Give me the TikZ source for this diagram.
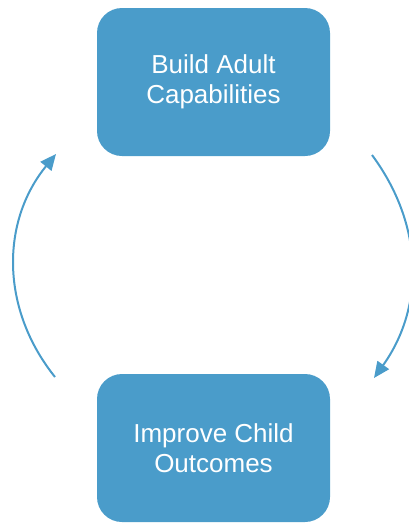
\documentclass[tikz,border=0pt]{standalone}
\usepackage{fontspec}
\setmainfont{Liberation Sans}
\usetikzlibrary{arrows.meta}
\definecolor{cycleblue}{RGB}{74,156,202}
\tikzset{
  stagebox/.style={fill=cycleblue,rounded corners=25pt,minimum width=233pt,
    minimum height=148pt,align=center,text=white,
    font=\fontsize{26}{30}\selectfont},
  cyclearrow/.style={draw=cycleblue,line width=2pt,
    -{Triangle[length=16pt,width=14pt]}}
}
\begin{document}
\begin{tikzpicture}[x=1pt,y=-1pt]
  \useasboundingbox (0,0) rectangle (408,523);
  \node[stagebox] (adult) at (213.5,82) {Build Adult\\Capabilities};
  \node[stagebox] (child) at (213.5,448) {Improve Child\\Outcomes};
  \coordinate (rtop) at (372,155);
  \coordinate (rbot) at (374,378);
  \coordinate (lbot) at (55,377);
  \coordinate (ltop) at (56,154);
  \path[cyclearrow] (rtop) to[bend left=36] (rbot);
  \path[cyclearrow] (lbot) to[bend left=39] (ltop);
\end{tikzpicture}
\end{document}
